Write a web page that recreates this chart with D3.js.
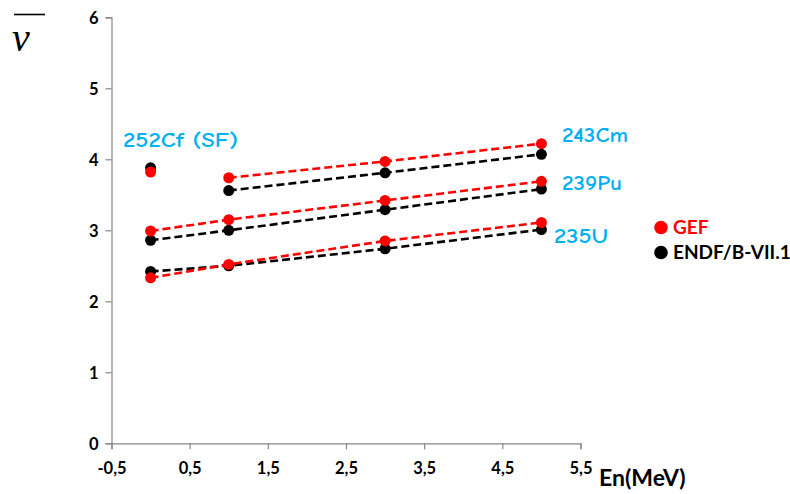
<!DOCTYPE html>
<html><head><meta charset="utf-8">
<script src="https://cdn.jsdelivr.net/npm/d3@7"></script>
<style>body{margin:0;background:#fff}svg{display:block}</style>
</head><body>
<script>
// ---- data ----
const xTicks = [-0.5, 0.5, 1.5, 2.5, 3.5, 4.5, 5.5];
const yTicks = [0, 1, 2, 3, 4, 5, 6];
const energies235U = [0, 1, 3, 5];
const gef235U = [2.33, 2.52, 2.85, 3.11];
const endf235U = [2.42, 2.50, 2.74, 3.01];
const energies239Pu = [0, 1, 3, 5];
const gef239Pu = [2.99, 3.15, 3.42, 3.69];
const endf239Pu = [2.86, 3.00, 3.29, 3.58];
const energies243Cm = [1, 3, 5];
const gef243Cm = [3.74, 3.97, 4.22];
const endf243Cm = [3.56, 3.81, 4.07];
const energies252Cf = [0];
const gef252Cf = [3.82];
const endf252Cf = [3.88];
const seriesNames = ["GEF", "ENDF/B-VII.1"];
const nuclideLabels = ["235U", "239Pu", "243Cm", "252Cf (SF)"];

const W = 790, H = 494;
const svg = d3.select("body").append("svg").attr("width", W).attr("height", H);
const x = d3.scaleLinear().domain([-0.5, 5.5]).range([111.5, 580.5]);
const y = d3.scaleLinear().domain([0, 6]).range([443.3, 17.3]);
const axisColor = "#868686";
const tickFont = "Lato, 'Open Sans', sans-serif";

// axes
const xAxis = svg.append("g").attr("transform", `translate(0,${y(0)})`)
  .call(d3.axisBottom(x).tickValues(xTicks).tickSize(6)
    .tickFormat(d => d3.format(".1f")(d).replace("\u2212", "-").replace(".", ",")));
const yAxis = svg.append("g").attr("transform", `translate(${x(-0.5)},0)`)
  .call(d3.axisLeft(y).tickValues(yTicks).tickSize(6).tickFormat(d3.format("d")));
[xAxis, yAxis].forEach(g => {
  g.select(".domain").attr("stroke", axisColor).attr("stroke-width", 1.2);
  g.selectAll(".tick line").attr("stroke", axisColor).attr("stroke-width", 1.2);
  g.selectAll(".tick text").attr("fill", "#000").style("font-family", tickFont)
    .style("font-weight", "bold").style("font-size", "16.5px");
});
xAxis.selectAll(".tick text").attr("dy", "0").attr("y", 31);
yAxis.selectAll(".tick text").attr("x", -13).attr("dy", "0.35em");

// axis titles
svg.append("text").attr("x", 599).attr("y", 486).text("En(MeV)")
  .style("font-family", tickFont).style("font-weight", "bold").style("font-size", "23px").attr("fill", "#000");
svg.append("line").attr("x1", 14).attr("x2", 45).attr("y1", 14.5).attr("y2", 14.5)
  .attr("stroke", "#000").attr("stroke-width", 1.6);
svg.append("text").attr("x", 12).attr("y", 51).text("ν")
  .style("font-family", "'Liberation Serif', 'DejaVu Serif', serif").style("font-style", "italic")
  .style("font-size", "40px").attr("fill", "#000");

// series
const groups = [
  {e: energies235U, gef: gef235U, endf: endf235U},
  {e: energies239Pu, gef: gef239Pu, endf: endf239Pu},
  {e: energies243Cm, gef: gef243Cm, endf: endf243Cm},
  {e: energies252Cf, gef: gef252Cf, endf: endf252Cf}
];
const line = d3.line().x(d => x(d[0])).y(d => y(d[1]));
const styles = [{key: "endf", color: "#000000"}, {key: "gef", color: "#ff0000"}];
styles.forEach(s => {
  groups.forEach(g => {
    const pts = g.e.map((e, i) => [e, g[s.key][i]]);
    if (pts.length > 1) {
      svg.append("path").attr("d", line(pts)).attr("fill", "none")
        .attr("stroke", s.color).attr("stroke-width", 2.6).attr("stroke-dasharray", "8,4");
    }
  });
});
styles.forEach(s => {
  groups.forEach(g => {
    const pts = g.e.map((e, i) => [e, g[s.key][i]]);
    svg.selectAll(null).data(pts).enter().append("circle")
      .attr("cx", d => x(d[0])).attr("cy", d => y(d[1])).attr("r", 5.5).attr("fill", s.color);
  });
});

// nuclide labels
const labelFont = "'Comic Sans MS', 'Comic Neue', 'DejaVu Sans', sans-serif";
const labelPos = [[554, 243, 54], [562, 190, 60], [562, 141.5, 66], [123, 147, 115]];
nuclideLabels.forEach((t, i) => {
  svg.append("text").attr("x", labelPos[i][0]).attr("y", labelPos[i][1]).text(t)
    .attr("textLength", labelPos[i][2]).attr("lengthAdjust", "spacingAndGlyphs")
    .style("font-family", labelFont).style("font-size", "20px").style("font-weight", "bold")
    .attr("fill", "#00b0f0");
});

// legend
const legColors = ["#ff0000", "#000000"];
seriesNames.forEach((n, i) => {
  const cy = 227.5 + i * 25;
  svg.append("circle").attr("cx", 661).attr("cy", cy).attr("r", 6.8).attr("fill", legColors[i]);
  svg.append("text").attr("x", 673).attr("y", cy + 6.5).text(n)
    .style("font-family", tickFont).style("font-weight", "bold").style("font-size", "19px")
    .attr("fill", legColors[i]);
});
</script>
</body></html>
